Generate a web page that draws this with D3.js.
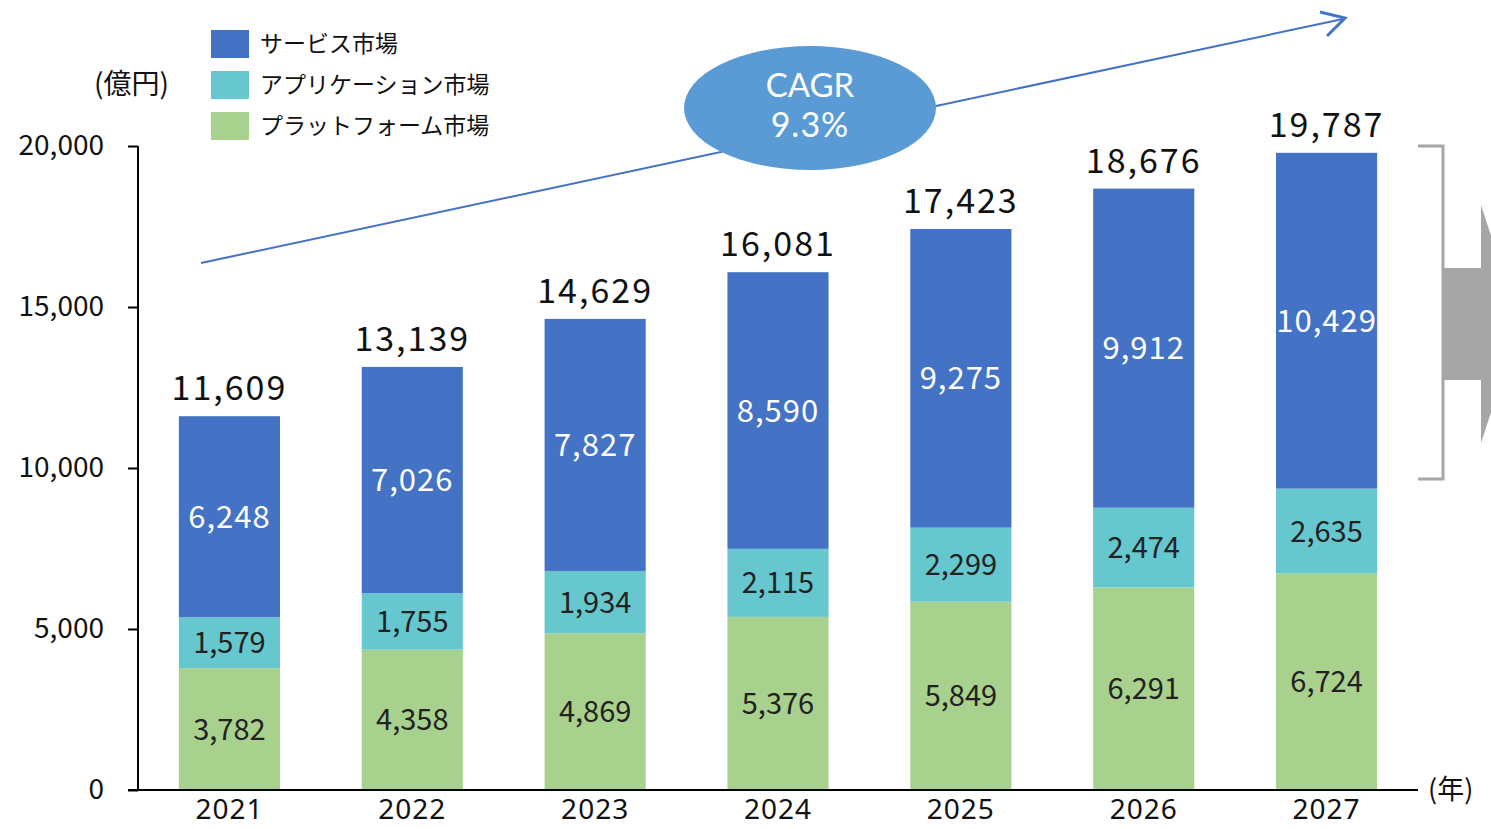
<!DOCTYPE html>
<html>
<head>
<meta charset="utf-8">
<script src="https://cdn.jsdelivr.net/npm/d3@7"></script>
<style>
  body { margin: 0; background: #fff; }
  text { font-family: "Noto Sans CJK JP", "Noto Sans", sans-serif; }
</style>
</head>
<body>
<div id="chart"></div>
<script>
'use strict';

// data
var years = ['2021', '2022', '2023', '2024', '2025', '2026', '2027'];
var platform = [3782, 4358, 4869, 5376, 5849, 6291, 6724];
var application = [1579, 1755, 1934, 2115, 2299, 2474, 2635];
var service = [6248, 7026, 7827, 8590, 9275, 9912, 10429];
var totals = [11609, 13139, 14629, 16081, 17423, 18676, 19787];
var seriesNames = ['サービス市場', 'アプリケーション市場', 'プラットフォーム市場'];
var yTicks = [0, 5000, 10000, 15000, 20000];

var colors = { service: '#4472C4', application: '#66C7CF', platform: '#A9D18E' };

var W = 1491, H = 829;
var svg = d3.select('#chart').append('svg').attr('width', W).attr('height', H);

var x = d3.scaleBand().domain(years).range([138, 1418]).paddingInner(0.447).paddingOuter(0.2235);
var y = d3.scaleLinear().domain([0, 20000]).range([790, 146]);

var rows = years.map(function (yr, i) {
  return { year: yr, platform: platform[i], application: application[i], service: service[i] };
});
var stack = d3.stack().keys(['platform', 'application', 'service'])(rows);

// bars
var layers = svg.selectAll('g.layer').data(stack).enter().append('g')
  .attr('fill', function (d) { return colors[d.key]; });
layers.selectAll('rect').data(function (d) { return d; }).enter().append('rect')
  .attr('x', function (d) { return x(d.data.year); })
  .attr('width', x.bandwidth())
  .attr('y', function (d) { return y(d[1]); })
  .attr('height', function (d) { return y(d[0]) - y(d[1]); });

// segment labels
stack.forEach(function (layer) {
  svg.append('g').selectAll('text').data(layer).enter().append('text')
    .attr('x', function (d) { return x(d.data.year) + x.bandwidth() / 2; })
    .attr('y', function (d) { return (y(d[0]) + y(d[1])) / 2; })
    .attr('dy', '0.36em')
    .attr('text-anchor', 'middle')
    .style('font-size', layer.key === 'service' ? '31px' : '29px')
    .style('letter-spacing', layer.key === 'service' ? '1px' : '0px')
    .style('fill', layer.key === 'service' ? '#fff' : '#222')
    .text(function (d) { return d3.format(',')(d.data[layer.key]); });
});

// totals
svg.append('g').selectAll('text').data(totals).enter().append('text')
  .attr('x', function (d, i) { return x(years[i]) + x.bandwidth() / 2; })
  .attr('y', function (d) { return y(d) - 16; })
  .attr('text-anchor', 'middle')
  .style('font-size', '34px')
  .style('letter-spacing', '2px')
  .style('fill', '#111')
  .text(function (d) { return d3.format(',')(d); });

// axes
var yAxis = svg.append('g').attr('transform', 'translate(138,0)')
  .call(d3.axisLeft(y).tickValues(yTicks).tickFormat(d3.format(',')).tickSize(10).tickPadding(24));
yAxis.select('.domain').attr('stroke', '#000').attr('stroke-width', 2).attr('d', 'M0,' + y(20000) + 'V' + y(0));
yAxis.selectAll('.tick line').attr('stroke', '#000').attr('stroke-width', 2);
yAxis.selectAll('.tick text').style('font-size', '28px').style('fill', '#111').style('font-family', '"Noto Sans CJK JP", sans-serif');

var xAxis = svg.append('g').attr('transform', 'translate(0,790)')
  .call(d3.axisBottom(x).tickSize(0).tickPadding(9));
xAxis.select('.domain').attr('stroke', '#000').attr('stroke-width', 2).attr('d', 'M128,0H1418');
xAxis.selectAll('.tick text').style('font-size', '28px').style('fill', '#111').style('letter-spacing', '1px')
  .style('font-family', '"Noto Sans", sans-serif');

svg.append('text').attr('x', 1428).attr('y', 799).style('font-size', '27px').style('fill', '#111').text('(年)');
svg.append('text').attr('x', 94).attr('y', 94).style('font-size', '28px').style('fill', '#111').text('(億円)');

// legend
var legendColors = [colors.service, colors.application, colors.platform];
var legend = svg.append('g').selectAll('g').data(seriesNames).enter().append('g')
  .attr('transform', function (d, i) { return 'translate(211,' + (30 + i * 41) + ')'; });
legend.append('rect').attr('width', 38).attr('height', 28).attr('fill', function (d, i) { return legendColors[i]; });
legend.append('text').attr('x', 49).attr('y', 14).attr('dy', '0.36em')
  .style('font-size', '23px').style('fill', '#111').text(function (d) { return d; });

// CAGR arrow
svg.append('line').attr('x1', 201).attr('y1', 263).attr('x2', 1343).attr('y2', 19)
  .attr('stroke', '#4472C4').attr('stroke-width', 2);
svg.append('path').attr('d', 'M1320,12L1345,18L1327,36').attr('fill', 'none').attr('stroke', '#4472C4').attr('stroke-width', 3);

svg.append('ellipse').attr('cx', 810).attr('cy', 108).attr('rx', 126).attr('ry', 62).attr('fill', '#5B9BD5');
svg.append('text').attr('x', 810).attr('y', 97).attr('text-anchor', 'middle').style('font-family', 'Lato, sans-serif')
  .style('font-size', '33px').style('fill', '#fff').text('CAGR');
svg.append('text').attr('x', 810).attr('y', 137).attr('text-anchor', 'middle').style('font-family', 'Lato, sans-serif')
  .style('font-size', '34px').style('fill', '#fff').style('letter-spacing', '1px').text('9.3%');

// bracket + gray arrow on right
svg.append('path').attr('d', 'M1418,146H1443V479H1418').attr('fill', 'none').attr('stroke', '#A6A6A6').attr('stroke-width', 3);
svg.append('path').attr('d', 'M1443,268H1481V205L1520,324L1481,443V380H1443Z').attr('fill', '#A6A6A6');
</script>
</body>
</html>
